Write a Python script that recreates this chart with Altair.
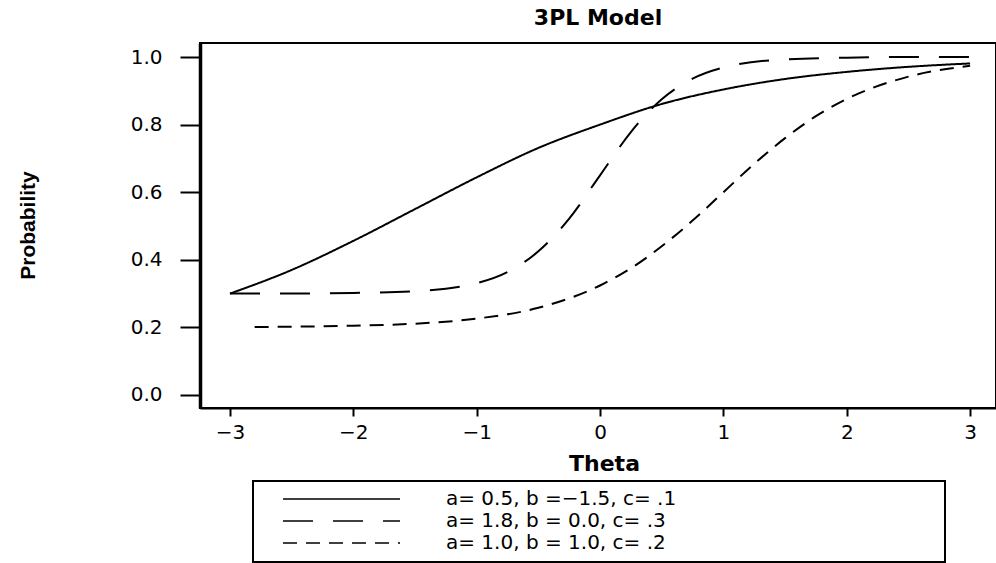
import altair as alt
import pandas as pd

# Series labels (legend order)
labels = ["a= 0.5, b =\u22121.5, c= .1", "a= 1.8, b = 0.0, c= .3", "a= 1.0, b = 1.0, c= .2"]

# Curve 1 (solid)
theta_a = [-3, -2.5, -2, -1.5, -1, -0.5, 0, 0.5, 1, 1.5, 2, 2.5, 3]
p_a = [0.30, 0.37, 0.456, 0.55, 0.644, 0.731, 0.80, 0.861, 0.904, 0.935, 0.956, 0.971, 0.981]

# Curve 2 (long dashes)
theta_b = [-3, -2.5, -2, -1.5, -1, -0.75, -0.5, -0.25, 0, 0.25, 0.5, 0.75, 1, 1.5, 2, 2.5, 3]
p_b = [0.30, 0.30, 0.302, 0.307, 0.331, 0.364, 0.425, 0.522, 0.65, 0.778, 0.875, 0.936, 0.969, 0.993, 0.998, 1.0, 1.0]

# Curve 3 (short dashes)
theta_c = [-2.8, -2.5, -2, -1.5, -1, -0.5, 0, 0.25, 0.5, 0.75, 1, 1.25, 1.5, 1.75, 2, 2.5, 3]
p_c = [0.201, 0.202, 0.205, 0.211, 0.226, 0.258, 0.324, 0.375, 0.44, 0.516, 0.60, 0.684, 0.76, 0.825, 0.876, 0.942, 0.974]

x_ticks = [-3, -2, -1, 0, 1, 2, 3]
y_ticks = [0.0, 0.2, 0.4, 0.6, 0.8, 1.0]

rows = []
for th, p in zip(theta_a, p_a):
    rows.append({"theta": th, "p": p, "series": labels[0]})
for th, p in zip(theta_b, p_b):
    rows.append({"theta": th, "p": p, "series": labels[1]})
for th, p in zip(theta_c, p_c):
    rows.append({"theta": th, "p": p, "series": labels[2]})
df = pd.DataFrame(rows)

curves = alt.Chart(df).mark_line(color="black", strokeWidth=2, interpolate="monotone").encode(
    x=alt.X("theta:Q",
            scale=alt.Scale(domain=[-3.243, 3.21], nice=False, zero=False),
            axis=alt.Axis(values=x_ticks, title="Theta", grid=False, tickSize=8, tickWidth=2,
                          tickColor="black", domainColor="black", domainWidth=2,
                          labelFont="DejaVu Sans", labelFontSize=20, labelColor="black",
                          labelPadding=6, labelFlush=False,
                          titleFont="DejaVu Sans", titleFontWeight="bold", titleFontSize=22,
                          titleColor="black", titleX=404, titleY=55, titleBaseline="middle",
                          titleAlign="center")),
    y=alt.Y("p:Q",
            scale=alt.Scale(domain=[-0.0385, 1.0415], nice=False, zero=False),
            axis=alt.Axis(values=y_ticks, format=".1f", title="Probability", grid=False,
                          tickSize=20, tickWidth=2, tickColor="black", domainColor="black",
                          domainWidth=3.5, labelFont="DejaVu Sans", labelFontSize=20,
                          labelColor="black", labelPadding=18, labelFlush=False,
                          titleFont="Liberation Sans", titleFontWeight="bold", titleFontSize=21,
                          titleColor="black", titleAngle=270, titleX=-172, titleY=182,
                          titleBaseline="middle", titleAlign="center")),
    strokeDash=alt.StrokeDash("series:N",
                              scale=alt.Scale(domain=labels, range=[[1, 0], [30, 20], [14, 9]]),
                              legend=alt.Legend(title=None, orient="none", legendX=53, legendY=438,
                                                padding=7, symbolType="stroke", symbolSize=13689,
                                                symbolStrokeWidth=1.5, symbolStrokeColor="black",
                                                clipHeight=22, rowPadding=0, symbolOffset=22,
                                                labelOffset=45, labelFont="DejaVu Sans",
                                                labelFontSize=20, labelColor="black",
                                                labelLimit=700)),
    detail="series:N",
)

box = alt.Chart(pd.DataFrame({"k": [0]})).mark_rect(filled=False, stroke="black", strokeWidth=2).encode(
    x=alt.value(53), x2=alt.value(745), y=alt.value(438), y2=alt.value(519)
)

chart = alt.layer(curves, box).properties(
    width=796,
    height=365,
    title=alt.TitleParams("3PL Model", font="DejaVu Sans", fontWeight="bold", fontSize=22,
                          color="black", anchor="middle", baseline="bottom", offset=15, dy=24),
    autosize=alt.AutoSizeParams(type="none"),
    padding={"left": 200, "top": 43, "right": 0, "bottom": 155},
    background="white",
).configure_view(stroke="black", strokeWidth=2)

chart.save("out.html", embed_options={"renderer": "svg", "actions": False})
